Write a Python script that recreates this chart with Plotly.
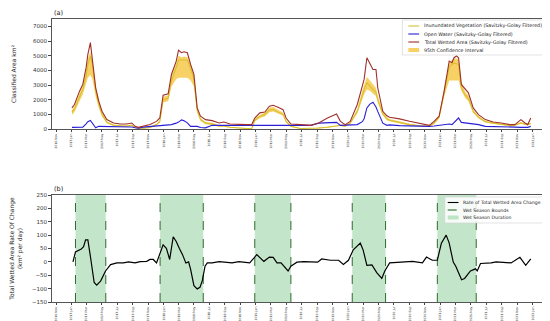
import plotly.graph_objects as go

# ---------------- Panel (a) data ----------------
dates_a = [
    "2017-01-03", "2017-01-13", "2017-02-02", "2017-02-15", "2017-02-28", "2017-03-07",
    "2017-03-17", "2017-03-25", "2017-04-07", "2017-04-19", "2017-05-02", "2017-05-21",
    "2017-06-17", "2017-07-13", "2017-08-08", "2017-08-28", "2017-09-10", "2017-09-23",
    "2017-10-12", "2017-11-08", "2017-12-04", "2017-12-17", "2017-12-30", "2018-01-19",
    "2018-02-01", "2018-02-20", "2018-03-01", "2018-03-13", "2018-03-23", "2018-04-05",
    "2018-04-18", "2018-05-01", "2018-05-14", "2018-05-27", "2018-06-16", "2018-07-12",
    "2018-08-09", "2018-08-28", "2018-09-21", "2018-10-26", "2018-11-27", "2018-12-16",
    "2018-12-28", "2019-01-17", "2019-02-06", "2019-02-24", "2019-03-11", "2019-03-30",
    "2019-04-19", "2019-05-01", "2019-05-20", "2019-06-28", "2019-08-07", "2019-09-07",
    "2019-10-12", "2019-11-17", "2019-12-02", "2019-12-21", "2020-01-10", "2020-02-07",
    "2020-02-27", "2020-03-05", "2020-03-16", "2020-03-28", "2020-04-09", "2020-04-21",
    "2020-04-28", "2020-05-18", "2020-06-03", "2020-06-14", "2020-07-23", "2020-09-01",
    "2020-10-10", "2020-11-18", "2020-12-07", "2020-12-27", "2021-01-16", "2021-02-05",
    "2021-02-16", "2021-02-24", "2021-03-06", "2021-03-14", "2021-03-25", "2021-04-10",
    "2021-04-22", "2021-05-11", "2021-06-01", "2021-06-28", "2021-07-29", "2021-08-30",
    "2021-10-04", "2021-10-23", "2021-11-16", "2021-12-02", "2021-12-13", "2021-12-25",
]
total_wetted = [
    1440, 1670, 2580, 3040, 4180, 5090, 5890, 4860, 2810, 1900, 1210, 640,
    410, 340, 340, 410, 180, 110, 180, 300, 520, 750, 2300, 2400,
    3720, 4630, 5370, 5200, 5270, 5200, 4400, 3720, 1440, 870, 640, 570,
    410, 480, 340, 300, 300, 300, 750, 1100, 1160, 1550, 1620, 1480,
    1320, 750, 340, 300, 250, 410, 750, 1030, 520, 300, 520, 1670,
    2810, 3380, 4860, 4400, 4060, 4060, 2810, 1210, 900, 800, 690, 525,
    410, 250, 525, 870, 2580, 4630, 4520, 4860, 4980, 4860, 3040, 2690,
    2470, 1440, 980, 640, 480, 410, 300, 300, 640, 410, 300, 750,
]
inundated_veg = [
    1150, 1350, 2200, 2700, 3600, 4400, 4950, 4400, 2600, 1700, 1000, 450,
    250, 200, 200, 250, 100, 60, 50, 100, 300, 500, 2000, 2100,
    3300, 4200, 4700, 4700, 4700, 4700, 4100, 3400, 1250, 650, 400, 350,
    200, 200, 120, 50, 25, 25, 600, 850, 1000, 1300, 1330, 1150,
    1000, 520, 180, 30, 25, 70, 120, 180, 250, 200, 400, 1200,
    2350, 2700, 3150, 2900, 2700, 2500, 2000, 1000, 700, 600, 450, 300,
    220, 180, 400, 800, 2500, 4200, 4400, 4500, 4450, 4400, 2800, 2300,
    2100, 1200, 800, 500, 400, 320, 230, 260, 410, 330, 300, 380,
]
open_water = [
    110, 110, 120, 130, 350, 500, 580, 380, 80, 180, 180, 180,
    160, 140, 140, 140, 80, 60, 130, 180, 220, 230, 250, 280,
    300, 400, 470, 620, 560, 420, 180, 180, 180, 100, 80, 250,
    250, 250, 250, 250, 250, 250, 250, 250, 250, 260, 260, 260,
    250, 250, 250, 250, 250, 400, 430, 450, 250, 250, 300, 300,
    500, 700, 1440, 1700, 1830, 1500, 1200, 400, 250, 280, 230, 200,
    190, 180, 200, 250, 300, 340, 300, 450, 640, 750, 450, 411,
    411, 330, 300, 180, 180, 180, 180, 130, 110, 110, 110, 180,
]
ci_lower = [
    950, 1150, 1900, 2350, 3100, 3500, 3700, 3400, 2200, 1450, 850, 380,
    200, 160, 160, 200, 70, 40, 30, 70, 250, 420, 1800, 1900,
    2900, 3400, 3500, 3500, 3500, 3500, 3300, 2900, 1100, 550, 330, 280,
    150, 150, 90, 30, 10, 10, 500, 750, 850, 1150, 1200, 1050,
    900, 450, 130, 15, 10, 40, 80, 140, 200, 160, 350, 1050,
    2100, 2350, 2700, 2600, 2400, 2250, 1800, 950, 600, 520, 380, 250,
    180, 140, 330, 700, 2200, 3300, 3300, 3300, 3300, 3300, 2600, 2100,
    1900, 1100, 720, 450, 350, 280, 200, 230, 350, 290, 260, 330,
]
ci_upper = [
    1300, 1550, 2450, 3000, 4000, 4800, 5250, 4700, 2900, 1950, 1150, 520,
    300, 240, 240, 300, 130, 90, 80, 130, 350, 580, 2200, 2300,
    3600, 4500, 5000, 4900, 4950, 4900, 4400, 3700, 1400, 750, 470, 420,
    250, 250, 150, 80, 40, 40, 700, 950, 1100, 1450, 1500, 1300,
    1100, 600, 220, 50, 40, 100, 160, 220, 300, 250, 450, 1350,
    2600, 2950, 3550, 3300, 3050, 2800, 2250, 1250, 800, 680, 520, 350,
    260, 220, 470, 900, 2800, 4500, 4700, 4800, 4800, 4750, 3200, 2500,
    2300, 1300, 880, 560, 450, 360, 260, 290, 470, 370, 340, 430,
]

# ---------------- Panel (b) data ----------------
dates_b = [
    "2017-01-07", "2017-01-17", "2017-02-09", "2017-02-18", "2017-02-26", "2017-03-07",
    "2017-03-17", "2017-04-01", "2017-04-11", "2017-04-27", "2017-05-16", "2017-06-05",
    "2017-06-30", "2017-07-26", "2017-08-15", "2017-09-10", "2017-09-30", "2017-10-26",
    "2017-11-08", "2017-11-21", "2017-12-04", "2017-12-17", "2017-12-30", "2018-01-12",
    "2018-01-25", "2018-02-08", "2018-02-20", "2018-03-04", "2018-03-17", "2018-03-30",
    "2018-04-10", "2018-04-18", "2018-05-01", "2018-05-14", "2018-05-25", "2018-06-03",
    "2018-06-14", "2018-06-23", "2018-07-12", "2018-08-09", "2018-09-02", "2018-09-29",
    "2018-10-26", "2018-11-19", "2018-12-08", "2019-01-05", "2019-02-02", "2019-02-24",
    "2019-03-11", "2019-03-26", "2019-04-11", "2019-05-09", "2019-05-20", "2019-06-13",
    "2019-07-10", "2019-09-03", "2019-09-19", "2019-10-24", "2019-11-25", "2019-12-14",
    "2020-01-03", "2020-01-22", "2020-02-19", "2020-03-01", "2020-03-16", "2020-04-05",
    "2020-04-24", "2020-05-14", "2020-05-26", "2020-06-14", "2020-07-12", "2020-08-20",
    "2020-09-13", "2020-10-22", "2020-11-07", "2020-11-30", "2020-12-20", "2021-01-05",
    "2021-01-24", "2021-02-05", "2021-02-21", "2021-03-03", "2021-03-26", "2021-04-07",
    "2021-04-30", "2021-05-20", "2021-05-27", "2021-06-09", "2021-06-28", "2021-07-21",
    "2021-08-10", "2021-09-15", "2021-10-08", "2021-11-12", "2021-12-05", "2021-12-25",
]
rate_of_change = [
    0, 37, 48, 57, 82, 82, 21, -77, -87, -71, -34, -10,
    -4, -4, 0, -4, 1, 2, 9, 9, -4, 33, 64, 51,
    9, 94, 76, 51, 27, -4, 0, -28, -89, -101, -95, -71,
    -16, -4, -4, 1, -2, -4, 1, -1, -4, 27, 2, 18,
    17, -4, -4, -34, -16, -1, 1, -1, 11, 6, 6, -10,
    6, 45, 70, 45, -13, -11, -40, -62, -34, -4, -2, 1,
    2, -4, 18, 6, 6, 70, 100, 70, -1, -16, -67, -62,
    -34, -26, -34, -6, -6, -4, 0, -4, -4, 17, -13, 11,
]
wet_season_start = ["2017-01-17", "2017-12-18", "2018-12-28", "2020-01-18", "2020-12-20"]
wet_season_end = ["2017-05-17", "2018-06-07", "2019-05-20", "2020-05-29", "2021-05-23"]

legend_a_labels = [
    "Inunundated Vegetation (Savitzky-Golay Filtered)",
    "Open Water (Savitzky-Golay Filtered)",
    "Total Wetted Area (Savitzky-Golay Filtered)",
    "95th Confidence Interval",
]
legend_b_labels = [
    "Rate of Total Wetted Area Change",
    "Wet Season Bounds",
    "Wet Season Duration",
]

Y2_MIN, Y2_MAX = -150, 250

# colours
C_VEG = "#d6c22e"
C_WATER = "#2a1fd6"
C_TOTAL = "#a0302a"
C_CI = "rgba(245,185,20,0.65)"
C_BAND = "rgba(130,200,145,0.48)"
C_BOUND = "#2e6b2e"

FONT = "DejaVu Sans"
W, H = 550, 321
ML, MR, MT, MB = 37, 3, 11, 27
PW, PH = W - ML - MR, H - MT - MB


def px(xp):
    return (xp - ML) / PW


def py(yp):
    return (H - MB - yp) / PH


fig = go.Figure()

# --- panel (a) ---
fig.add_trace(go.Scatter(x=dates_a, y=ci_lower, mode="lines", line=dict(width=0),
                         showlegend=False, hoverinfo="skip", xaxis="x", yaxis="y"))
fig.add_trace(go.Scatter(x=dates_a, y=ci_upper, mode="lines", line=dict(width=0),
                         fill="tonexty", fillcolor=C_CI, showlegend=False,
                         name=legend_a_labels[3], xaxis="x", yaxis="y"))
fig.add_trace(go.Scatter(x=dates_a, y=inundated_veg, mode="lines",
                         line=dict(color=C_VEG, width=1.1), showlegend=False,
                         name=legend_a_labels[0], xaxis="x", yaxis="y"))
fig.add_trace(go.Scatter(x=dates_a, y=open_water, mode="lines",
                         line=dict(color=C_WATER, width=1.1), showlegend=False,
                         name=legend_a_labels[1], xaxis="x", yaxis="y"))
fig.add_trace(go.Scatter(x=dates_a, y=total_wetted, mode="lines",
                         line=dict(color=C_TOTAL, width=1.1), showlegend=False,
                         name=legend_a_labels[2], xaxis="x", yaxis="y"))

# --- panel (b) ---
band_x, band_y, bound_x, bound_y = [], [], [], []
for s, e in zip(wet_season_start, wet_season_end):
    band_x += [s, s, e, e, s, None]
    band_y += [Y2_MIN, Y2_MAX, Y2_MAX, Y2_MIN, Y2_MIN, None]
    bound_x += [s, s, None, e, e, None]
    bound_y += [Y2_MIN, Y2_MAX, None, Y2_MIN, Y2_MAX, None]

fig.add_trace(go.Scatter(x=band_x, y=band_y, mode="lines", line=dict(width=0),
                         fill="toself", fillcolor=C_BAND, showlegend=False,
                         name=legend_b_labels[2], xaxis="x2", yaxis="y2"))
fig.add_trace(go.Scatter(x=bound_x, y=bound_y, mode="lines",
                         line=dict(color=C_BOUND, width=1, dash="dash"), showlegend=False,
                         name=legend_b_labels[1], xaxis="x2", yaxis="y2"))
fig.add_trace(go.Scatter(x=dates_b, y=rate_of_change, mode="lines",
                         line=dict(color="black", width=1.2), showlegend=False,
                         name=legend_b_labels[0], xaxis="x2", yaxis="y2"))

xcommon = dict(type="date", range=["2016-10-16", "2022-03-27"],
               tick0="2016-11-01", dtick="M2", tickformat="%Y-%b",
               tickangle=-90, tickfont=dict(size=3.1, family=FONT, color="#333"),
               ticks="outside", ticklen=2.5, tickwidth=0.6, tickcolor="#444",
               showgrid=False, zeroline=False,
               showline=True, linecolor="#555", linewidth=0.8, mirror=True)
ycommon = dict(showgrid=False, zeroline=False,
               tickfont=dict(size=5.5, family=FONT, color="#333"),
               ticks="outside", ticklen=3, tickwidth=0.6, tickcolor="#444",
               showline=True, linecolor="#555", linewidth=0.8, mirror=True)

# ---- hand-drawn legends (compact, matplotlib-like) ----
shapes = []
annotations = [
    dict(text="(a)", xref="paper", yref="paper", x=0, y=1.0, xanchor="left",
         yanchor="bottom", showarrow=False, font=dict(size=6.5, family=FONT, color="#222")),
    dict(text="(b)", xref="paper", yref="paper", x=0, y=py(187), xanchor="left",
         yanchor="bottom", showarrow=False, font=dict(size=6.5, family=FONT, color="#222")),
]

# legend (a)
shapes.append(dict(type="rect", xref="paper", yref="paper", x0=px(393), x1=px(545),
                   y0=py(47), y1=py(12), line=dict(color="#d0d0d0", width=0.6),
                   fillcolor="rgba(255,255,255,0.85)", layer="above"))
rows_a = [18, 26, 34, 42]
styles_a = [("line", C_VEG), ("line", C_WATER), ("line", C_TOTAL), ("patch", C_CI)]
for yp, (kind, col), lab in zip(rows_a, styles_a, legend_a_labels):
    if kind == "line":
        shapes.append(dict(type="line", xref="paper", yref="paper", x0=px(399), x1=px(410),
                           y0=py(yp), y1=py(yp), line=dict(color=col, width=1.1), layer="above"))
    else:
        shapes.append(dict(type="rect", xref="paper", yref="paper", x0=px(399), x1=px(410),
                           y0=py(yp + 2), y1=py(yp - 2), line=dict(width=0), fillcolor=col,
                           layer="above"))
    annotations.append(dict(text=lab, xref="paper", yref="paper", x=px(413), y=py(yp),
                            xanchor="left", yanchor="middle", showarrow=False,
                            font=dict(size=4.8, family=FONT, color="#222")))

# legend (b)
shapes.append(dict(type="rect", xref="paper", yref="paper", x0=px(436), x1=px(545),
                   y0=py(215), y1=py(189), line=dict(color="#d0d0d0", width=0.6),
                   fillcolor="rgba(255,255,255,0.85)", layer="above"))
rows_b = [194.5, 202, 209.5]
styles_b = [("line", "black", "solid"), ("line", C_BOUND, "dash"), ("patch", C_BAND, None)]
for yp, (kind, col, dash), lab in zip(rows_b, styles_b, legend_b_labels):
    if kind == "line":
        shapes.append(dict(type="line", xref="paper", yref="paper", x0=px(439), x1=px(450),
                           y0=py(yp), y1=py(yp), line=dict(color=col, width=1.1, dash=dash),
                           layer="above"))
    else:
        shapes.append(dict(type="rect", xref="paper", yref="paper", x0=px(439), x1=px(450),
                           y0=py(yp + 2), y1=py(yp - 2), line=dict(width=0), fillcolor=col,
                           layer="above"))
    annotations.append(dict(text=lab, xref="paper", yref="paper", x=px(453), y=py(yp),
                            xanchor="left", yanchor="middle", showarrow=False,
                            font=dict(size=4.6, family=FONT, color="#222")))

fig.update_layout(
    width=W, height=H,
    margin=dict(l=ML, r=MR, t=MT, b=MB),
    paper_bgcolor="white", plot_bgcolor="white",
    font=dict(family=FONT),
    showlegend=False,
    xaxis=dict(domain=[0, 1], anchor="y", **xcommon),
    yaxis=dict(domain=[py(121), 1], anchor="x", range=[0, 7500], dtick=1000,
               title=dict(text="Classified Area km²", font=dict(size=6, family=FONT, color="#222"),
                          standoff=15),
               **ycommon),
    xaxis2=dict(domain=[0, 1], anchor="y2", **xcommon),
    yaxis2=dict(domain=[0, py(187)], anchor="x2", range=[Y2_MIN, Y2_MAX], dtick=50,
                title=dict(text="Total Wetted Area Rate Of Change<br>(km² per day)",
                           font=dict(size=6, family=FONT, color="#222"), standoff=9),
                **ycommon),
    shapes=shapes,
    annotations=annotations,
)

fig.write_html("out.html")
